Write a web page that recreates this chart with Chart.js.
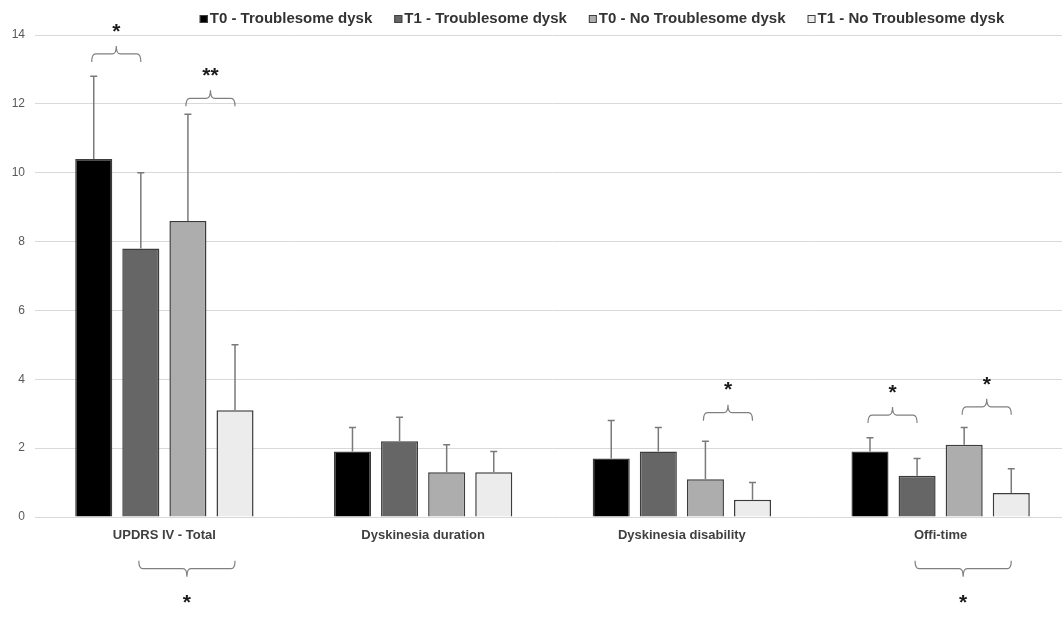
<!DOCTYPE html>
<html>
<head>
<meta charset="utf-8">
<script src="https://cdn.jsdelivr.net/npm/chart.js@4.4.1/dist/chart.umd.min.js"></script>
<style>
  html, body { margin: 0; padding: 0; background: #fff; overflow: hidden; }
  #wrap { width: 1062px; height: 633px; overflow: hidden; }
</style>
</head>
<body>
<div id="wrap"><canvas id="grafico" width="1070" height="633"></canvas></div>
<script>
// values (means and upper SD)
const categories = ['UPDRS IV - Total', 'Dyskinesia duration', 'Dyskinesia disability', 'Offi-time']
const seriesNames = ['T0 - Troublesome dysk', 'T1 - Troublesome dysk', 'T0 - No Troublesome dysk', 'T1 - No Troublesome dysk']
const t0Trouble = [10.4, 1.9, 1.7, 1.9]
const t1Trouble = [7.8, 2.2, 1.9, 1.2]
const t0NoTrouble = [8.6, 1.3, 1.1, 2.1]
const t1NoTrouble = [3.1, 1.3, 0.5, 0.7]
const sdT0Trouble = [2.4, 0.7, 1.1, 0.4]
const sdT1Trouble = [2.2, 0.7, 0.7, 0.5]
const sdT0NoTrouble = [3.1, 0.8, 1.1, 0.5]
const sdT1NoTrouble = [1.9, 0.6, 0.5, 0.7]
const colors = ['#000000', '#666666', '#adadad', '#ececec']

// significance braces: category, bars joined, level (y value) and mark
const brackets = [
  {cat: 0, from: 0, to: 1, level: 13.45, label: '*'},
  {cat: 0, from: 2, to: 3, level: 12.16, label: '**'},
  {cat: 0, from: 1, to: 3, level: -1.5, label: '*'},
  {cat: 2, from: 2, to: 3, level: 3.03, label: '*'},
  {cat: 3, from: 0, to: 1, level: 2.96, label: '*'},
  {cat: 3, from: 2, to: 3, level: 3.2, label: '*'},
  {cat: 3, from: 1, to: 3, level: -1.5, label: '*'}
]

const values = [t0Trouble, t1Trouble, t0NoTrouble, t1NoTrouble]
const sds = [sdT0Trouble, sdT1Trouble, sdT0NoTrouble, sdT1NoTrouble]

const extras = {
  id: 'extras',
  afterDatasetsDraw(chart) {
    const {ctx, scales: {y}} = chart
    ctx.save()
    // error bars (upper only)
    ctx.strokeStyle = '#7a7a7a'
    ctx.lineWidth = 1.5
    chart.data.datasets.forEach((ds, i) => {
      chart.getDatasetMeta(i).data.forEach((bar, j) => {
        const top = y.getPixelForValue(ds.data[j] + ds.sd[j])
        ctx.beginPath()
        ctx.moveTo(bar.x, bar.y)
        ctx.lineTo(bar.x, top)
        ctx.moveTo(bar.x - 3.5, top)
        ctx.lineTo(bar.x + 3.5, top)
        ctx.stroke()
      })
    })
    ctx.restore()
  },
  afterDraw(chart) {
    const {ctx, scales: {y}} = chart
    ctx.save()
    // braces
    brackets.forEach(b => {
      const x1 = chart.getDatasetMeta(b.from).data[b.cat].x - 2
      const x2 = chart.getDatasetMeta(b.to).data[b.cat].x
      const mid = (x1 + x2) / 2
      const yl = y.getPixelForValue(b.level)
      const d = b.level < 0 ? 1 : -1  // direction of the tip
      const arm = 8, tip = 8, r = 4
      ctx.strokeStyle = '#808080'
      ctx.lineWidth = 1.2
      ctx.beginPath()
      ctx.moveTo(x1, yl - d * arm)
      ctx.quadraticCurveTo(x1, yl, x1 + r, yl)
      ctx.lineTo(mid - r, yl)
      ctx.quadraticCurveTo(mid, yl, mid, yl + d * tip)
      ctx.moveTo(x2, yl - d * arm)
      ctx.quadraticCurveTo(x2, yl, x2 - r, yl)
      ctx.lineTo(mid + r, yl)
      ctx.quadraticCurveTo(mid, yl, mid, yl + d * tip)
      ctx.stroke()
      ctx.fillStyle = '#1a1a1a'
      ctx.font = 'bold 21px "Liberation Sans", Arial'
      ctx.textAlign = 'center'
      ctx.textBaseline = 'middle'
      ctx.fillText(b.label, mid, d > 0 ? yl + 35 : yl - 22)
    })
    // legend
    ctx.font = 'bold 15px "Liberation Sans", Arial'
    ctx.textBaseline = 'middle'
    ctx.textAlign = 'left'
    const box = 8, gapText = 2, gapItem = 22
    let total = 0
    chart.data.datasets.forEach(ds => { total += box + gapText + ctx.measureText(ds.label).width + gapItem })
    total -= gapItem
    let x = 602 - total / 2
    const ly = 19
    chart.data.datasets.forEach(ds => {
      ctx.fillStyle = ds.backgroundColor
      ctx.fillRect(x, ly - box / 2, box, box)
      ctx.strokeStyle = '#404040'
      ctx.lineWidth = 1
      ctx.strokeRect(x + 0.5, ly - box / 2 + 0.5, box - 1, box - 1)
      x += box + gapText
      ctx.fillStyle = '#333333'
      ctx.fillText(ds.label, x, ly)
      x += ctx.measureText(ds.label).width + gapItem
    })
    ctx.restore()
  }
}

const grafico = new Chart(document.getElementById('grafico'), {
  type: 'bar',
  data: {
    labels: categories,
    datasets: seriesNames.map((name, i) => ({
      label: name,
      data: values[i],
      sd: sds[i],
      backgroundColor: colors[i],
      borderColor: '#3c3c3c',
      borderWidth: 1.5,
      categoryPercentage: 0.728,
      barPercentage: 0.787
    }))
  },
  options: {
    responsive: false,
    animation: false,
    layout: {padding: {top: 35, bottom: 86, left: 0, right: 0}},
    plugins: {
      legend: {display: false},
      tooltip: {enabled: false}
    },
    scales: {
      x: {
        grid: {display: false},
        border: {display: false},
        ticks: {
          padding: 3,
          color: '#404040',
          font: {family: '"Liberation Sans", Arial', size: 13, weight: 'bold'}
        },
        afterFit(scale) { scale.height = 30 }
      },
      y: {
        min: 0,
        max: 14,
        grid: {color: '#d9d9d9', drawTicks: false},
        border: {display: false},
        ticks: {
          stepSize: 2,
          padding: 10,
          color: '#595959',
          font: {family: '"Liberation Sans", Arial', size: 12}
        },
        afterFit(scale) { scale.width = 35 }
      }
    }
  },
  plugins: [extras]
})
</script>
</body>
</html>
